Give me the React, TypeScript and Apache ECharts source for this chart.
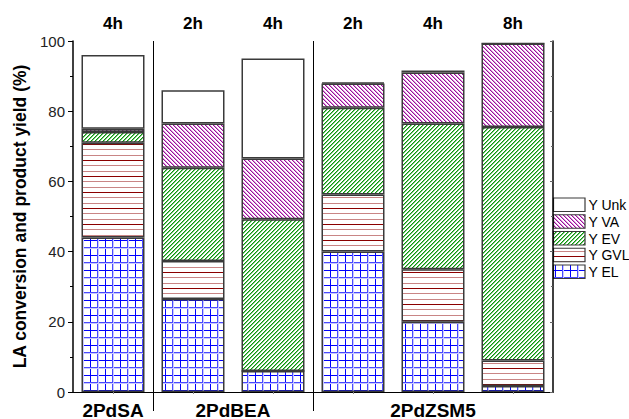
import React, { useEffect, useRef } from 'react';
import * as echarts from 'echarts';

// Samples: catalyst and reaction time per bar
const catalysts = ['2PdSA', '2PdBEA', '2PdBEA', '2PdZSM5', '2PdZSM5', '2PdZSM5'];
const reactionTimes = ['4h', '2h', '4h', '2h', '4h', '8h'];

// Product yields (%) stacked from the bottom
const yEL = [44, 26.5, 6, 40, 20, 1.7];
const yGVL = [27, 10.8, 0, 16.3, 15, 7.3];
const yEV = [3.1, 26.6, 43.2, 24.7, 41.5, 66.5];
const yVA = [0.9, 12.6, 17.3, 6.9, 14.5, 23.8];
const yUnk = [21, 9.5, 28.5, 0.3, 0.6, 0];

const seriesNames = ['Y EL', 'Y GVL', 'Y EV', 'Y VA', 'Y Unk'];
const legendOrder = ['Y Unk', 'Y VA', 'Y EV', 'Y GVL', 'Y EL'];

const FONT = 'Liberation Sans, Arial, Helvetica, sans-serif';
const BORDER = '#3a3a3a';

type Draw = (ctx: CanvasRenderingContext2D, w: number, h: number) => void;

function makeTile(w: number, h: number, draw: Draw) {
  const c = document.createElement('canvas');
  c.width = w;
  c.height = h;
  const ctx = c.getContext('2d')!;
  ctx.fillStyle = '#ffffff';
  ctx.fillRect(0, 0, w, h);
  draw(ctx, w, h);
  return { image: c, repeat: 'repeat', imageWidth: w, imageHeight: h } as any;
}

function buildPatterns() {
  const grid = makeTile(15, 15, (ctx, w, h) => {
    const lines: [number, string][] = [[0, '#0000ff'], [7, '#4a4aff'], [8, '#c8c8ff']];
    for (const [p, col] of lines) {
      ctx.fillStyle = col;
      ctx.fillRect(p, 0, 1, h);
      ctx.fillRect(0, p, w, 1);
    }
  });
  const hLines = makeTile(8, 16, (ctx, w) => {
    ctx.fillStyle = '#8b0000';
    ctx.fillRect(0, 0, w, 1);
    ctx.fillStyle = '#c98585';
    ctx.fillRect(0, 5, w, 1);
    ctx.fillRect(0, 11, w, 1);
  });
  const fwdDiag = makeTile(4, 4, (ctx) => {
    for (let i = 0; i < 4; i++) {
      ctx.fillStyle = '#0a960a';
      ctx.fillRect(i, 3 - i, 1, 1);
      ctx.fillStyle = '#7cc67c';
      ctx.fillRect((i + 1) % 4, 3 - i, 1, 1);
    }
  });
  const backDiag = makeTile(4, 4, (ctx) => {
    for (let i = 0; i < 4; i++) {
      ctx.fillStyle = '#9a109a';
      ctx.fillRect(i, i, 1, 1);
      ctx.fillStyle = '#d990d9';
      ctx.fillRect((i + 1) % 4, i, 1, 1);
    }
  });
  return [grid, hLines, fwdDiag, backDiag, '#ffffff'];
}

export default function App() {
  const ref = useRef<HTMLDivElement>(null);

  useEffect(() => {
    const chart = echarts.init(ref.current!, null, { renderer: 'svg' });
    const fills = buildPatterns();
    const values = [yEL, yGVL, yEV, yVA, yUnk];
    const keys = catalysts.map((c, i) => `${c} ${reactionTimes[i]}`);

    chart.setOption({
      animation: false,
      backgroundColor: '#ffffff',
      textStyle: { fontFamily: FONT },
      grid: { left: 73, right: 76, top: 41, bottom: 27, containLabel: false, outerBoundsMode: 'none' },
      xAxis: [
        {
          type: 'category',
          data: keys,
          position: 'bottom',
          axisLine: { show: true, lineStyle: { color: '#333', width: 1 } },
          axisTick: { show: true, alignWithLabel: true, inside: false, length: 2, lineStyle: { color: '#333' } },
          axisLabel: { show: false },
          splitLine: { show: false },
        },
        {
          type: 'category',
          data: keys,
          position: 'top',
          axisLine: { show: true, lineStyle: { color: '#000', width: 1 } },
          axisTick: { show: true, alignWithLabel: true, inside: true, length: 2, lineStyle: { color: '#888' } },
          axisLabel: {
            margin: 9,
            fontFamily: FONT,
            fontSize: 17,
            fontWeight: 'bold',
            color: '#000',
            formatter: (_v: string, idx: number) => reactionTimes[idx],
          },
          splitLine: { show: false },
        },
      ],
      yAxis: [
        {
          type: 'value',
          min: 0,
          max: 100,
          interval: 20,
          position: 'left',
          name: 'LA conversion and product yield (%)',
          nameLocation: 'middle',
          nameGap: 44,
          nameTextStyle: { fontFamily: FONT, fontSize: 17.5, fontWeight: 'bold', color: '#000' },
          axisLine: { show: true, lineStyle: { color: '#000', width: 1.5 } },
          axisTick: { show: true, inside: false, length: 5, lineStyle: { color: '#000' } },
          minorTick: { show: true, splitNumber: 2, length: 3, lineStyle: { color: '#000' } },
          axisLabel: { margin: 8, fontFamily: FONT, fontSize: 15, color: '#222' },
          splitLine: { show: false },
        },
        {
          type: 'value',
          min: 0,
          max: 100,
          interval: 20,
          position: 'right',
          axisLine: { show: true, lineStyle: { color: '#000', width: 1.5 } },
          axisTick: { show: true, inside: true, length: 3, lineStyle: { color: '#666' } },
          minorTick: { show: true, splitNumber: 2, length: 2, lineStyle: { color: '#666' } },
          axisLabel: { show: false },
          splitLine: { show: false },
        },
      ],
      series: seriesNames.map((name, k) => ({
        name,
        type: 'bar',
        stack: 'yield',
        xAxisIndex: 0,
        yAxisIndex: 0,
        barWidth: 63,
        data: values[k],
        itemStyle: { color: fills[k], borderColor: BORDER, borderWidth: 1.5 },
        emphasis: { disabled: true },
      })),
    });

    // Group labels under the axis and separators between catalyst groups
    const px = (i: number) => chart.convertToPixel({ xAxisIndex: 0 }, i) as number;
    const yTop = chart.convertToPixel({ yAxisIndex: 0 }, 100) as number;
    const yBase = chart.convertToPixel({ yAxisIndex: 0 }, 0) as number;
    const groups: { name: string; start: number; end: number }[] = [];
    catalysts.forEach((c, i) => {
      const g = groups[groups.length - 1];
      if (g && g.name === c) g.end = i;
      else groups.push({ name: c, start: i, end: i });
    });
    const graphics: any[] = [];
    groups.forEach((g, gi) => {
      graphics.push({
        type: 'text',
        x: (px(g.start) + px(g.end)) / 2,
        y: yBase + 18,
        style: {
          text: g.name,
          fontFamily: FONT,
          fontSize: 19,
          fontWeight: 'bold',
          fill: '#000',
          align: 'center',
          verticalAlign: 'middle',
        },
      });
      if (gi > 0) {
        const x = Math.round((px(g.start - 1) + px(g.start)) / 2) + 0.5;
        graphics.push({
          type: 'line',
          shape: { x1: x, y1: yTop, x2: x, y2: yBase + 19 },
          style: { stroke: '#000', lineWidth: 1 },
        });
      }
    });

    // Legend: patterned swatches beside the plot, top entry first
    const legendLeft = px(catalysts.length - 1) + 40.5;
    legendOrder.forEach((name, j) => {
      const k = seriesNames.indexOf(name);
      const top = 198 + j * 16.75;
      graphics.push({
        type: 'rect',
        shape: { x: legendLeft, y: top, width: 31.5, height: 13.5 },
        style: { fill: fills[k], stroke: BORDER, lineWidth: 1.2 },
      });
      graphics.push({
        type: 'text',
        x: legendLeft + 35,
        y: top + 7,
        style: {
          text: name,
          fontFamily: FONT,
          fontSize: 14,
          fill: '#000',
          align: 'left',
          verticalAlign: 'middle',
        },
      });
    });

    chart.setOption({ graphic: graphics });

    return () => chart.dispose();
  }, []);

  return (
    <div
      ref={ref}
      style={{ position: 'fixed', left: 0, top: 0, width: 629, height: 419, background: '#fff' }}
    />
  );
}
